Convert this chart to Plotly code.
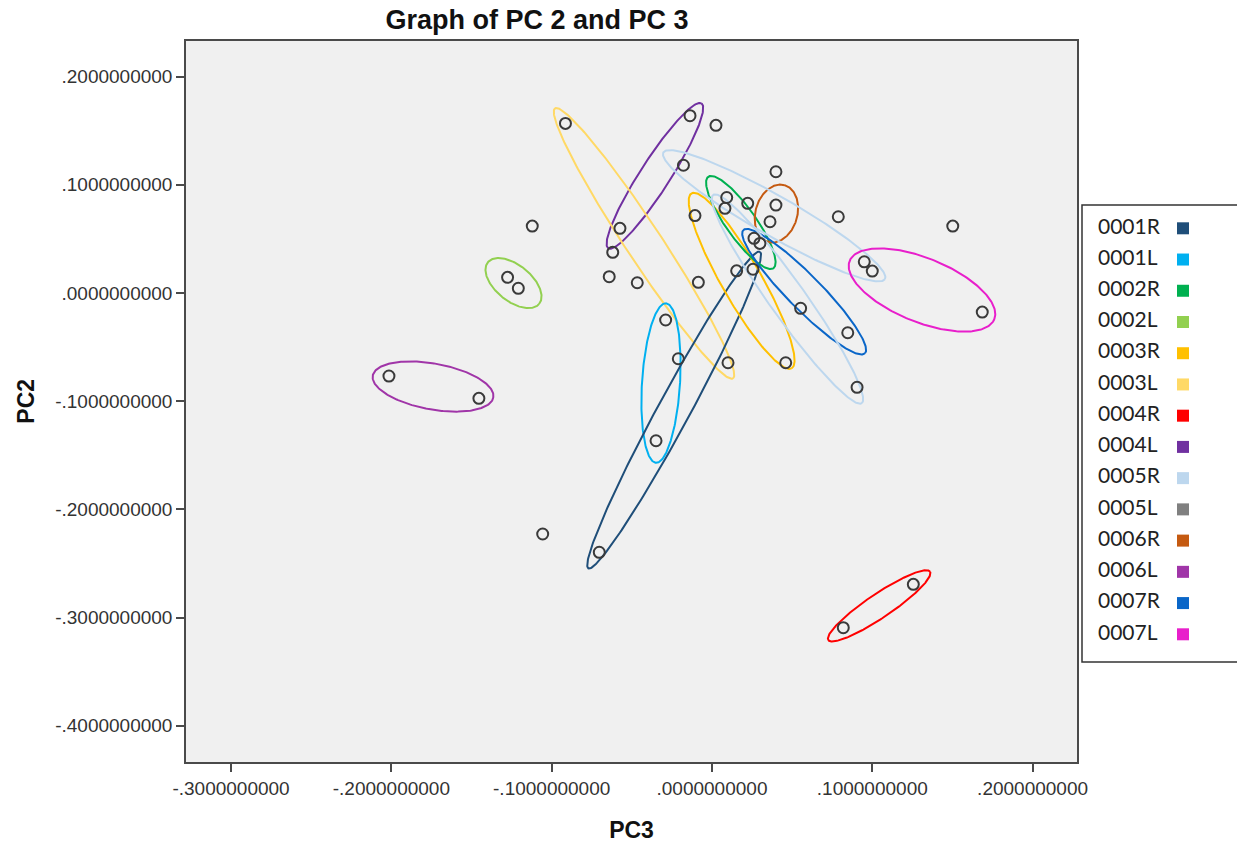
import numpy as np
import plotly.graph_objects as go

# ---------------- data ----------------
pc3 = [-0.0914, -0.0137, 0.0025, -0.0178, 0.0399, 0.0092, 0.0081, 0.0223, 0.0399, 0.0362,
       -0.0106, 0.0788, 0.1502, -0.1121, -0.0574, -0.0619, 0.0262, 0.0299, 0.0950, 0.1000,
       -0.0641, -0.0466, -0.0085, 0.0154, 0.0256, -0.1275, -0.1208, 0.0553, 0.1686, -0.0289,
       0.0847, -0.0210, 0.0100, 0.0460, 0.0905, -0.2015, -0.1454, -0.0349, -0.1056, -0.0703,
       0.1256, 0.0819]
pc2 = [0.1567, 0.1638, 0.1549, 0.1180, 0.1120, 0.0882, 0.0782, 0.0828, 0.0812, 0.0658,
       0.0715, 0.0704, 0.0618, 0.0618, 0.0597, 0.0375, 0.0505, 0.0458, 0.0288, 0.0202,
       0.0150, 0.0094, 0.0098, 0.0204, 0.0219, 0.0144, 0.0043, -0.0142, -0.0177, -0.0250,
       -0.0368, -0.0608, -0.0645, -0.0645, -0.0872, -0.0768, -0.0974, -0.1366, -0.2228, -0.2397,
       -0.2693, -0.3094]

groups = ["0001R", "0001L", "0002R", "0002L", "0003R", "0003L", "0004R",
          "0004L", "0005R", "0005L", "0006R", "0006L", "0007R", "0007L"]
group_colors = ["#1F4E79", "#00B0F0", "#00B050", "#92D050", "#FFC000", "#FFD966", "#FF0000",
                "#7030A0", "#BDD7EE", "#808080", "#C55A11", "#A035A8", "#0A66C8", "#E81FCB"]

# group ellipses: centre, half major-axis vector (data units), minor/major ratio
ell_group = ["0006L", "0002L", "0004L", "0003L", "0001L", "0001R", "0003R", "0002R",
             "0006R", "0007R", "0005R", "0005R", "0004R", "0007L"]
ell_cx = [-0.1740, -0.1238, -0.0356, -0.0424, -0.0318, -0.0236, 0.0185, 0.0180,
          0.0402, 0.0575, 0.0388, 0.0471, 0.1043, 0.1310]
ell_cy = [-0.0865, 0.0091, 0.1082, 0.0458, -0.0833, -0.1082, 0.0112, 0.0651,
          0.0734, 0.0011, 0.0713, -0.0056, -0.2892, 0.0027]
ell_ax = [0.0376, 0.0160, 0.0291, 0.0555, 0.0031, 0.0535, 0.0312, 0.0203,
          0.0051, 0.0379, 0.0691, 0.0463, 0.0317, 0.0451]
ell_ay = [-0.0101, -0.0192, 0.0670, -0.1248, 0.0737, 0.1463, -0.0809, -0.0423,
          0.0262, -0.0570, -0.0585, -0.0963, 0.0316, -0.0270]
ell_ratio = [0.375, 0.545, 0.174, 0.111, 0.238, 0.089, 0.198, 0.267,
             0.71, 0.196, 0.157, 0.141, 0.196, 0.41]

x_tickvals = [-0.3, -0.2, -0.1, 0.0, 0.1, 0.2]
x_ticktext = ["-.3000000000", "-.2000000000", "-.1000000000", ".0000000000", ".1000000000", ".2000000000"]
y_tickvals = [0.2, 0.1, 0.0, -0.1, -0.2, -0.3, -0.4]
y_ticktext = [".2000000000", ".1000000000", ".0000000000", "-.1000000000", "-.2000000000",
              "-.3000000000", "-.4000000000"]

# ---------------- layout geometry ----------------
W, H = 1237, 843
plot_l, plot_r, plot_t, plot_b = 186, 1077, 40.5, 762
x_range = [-0.3281, 0.2277]
y_range = [-0.4335, 0.2333]
sx = (plot_r - plot_l) / (x_range[1] - x_range[0])
sy = (plot_b - plot_t) / (y_range[1] - y_range[0])

color_of = dict(zip(groups, group_colors))

fig = go.Figure()

# ellipses
t = np.linspace(0, 2 * np.pi, 241)
for g, cx, cy, ax, ay, r in zip(ell_group, ell_cx, ell_cy, ell_ax, ell_ay, ell_ratio):
    vx, vy = ax * sx, ay * sy
    px, py = -vy * r, vx * r
    xs = cx + (vx * np.cos(t) + px * np.sin(t)) / sx
    ys = cy + (vy * np.cos(t) + py * np.sin(t)) / sy
    fig.add_trace(go.Scatter(x=xs, y=ys, mode="lines", line=dict(color=color_of[g], width=2),
                             showlegend=False, hoverinfo="skip", name=g))

# points
fig.add_trace(go.Scatter(x=pc3, y=pc2, mode="markers", showlegend=False,
                         marker=dict(symbol="circle-open", size=11, color="#3a3a3a",
                                     line=dict(width=2, color="#3a3a3a"))))

# custom legend (text left, coloured square right)
idx = list(range(len(groups)))
fig.add_trace(go.Scatter(x=[1098] * len(groups), y=idx, mode="text", text=groups,
                         textposition="middle right", xaxis="x2", yaxis="y2", showlegend=False,
                         textfont=dict(family="Lato, Open Sans, sans-serif", size=21, color="#222222"),
                         hoverinfo="skip"))
fig.add_trace(go.Scatter(x=[1183] * len(groups), y=idx, mode="markers", xaxis="x2", yaxis="y2",
                         showlegend=False, hoverinfo="skip",
                         marker=dict(symbol="square", size=12, color=group_colors)))

axis_common = dict(showgrid=False, zeroline=False, showline=True, mirror=True,
                   linecolor="#4a4a4a", linewidth=1.5, ticks="outside", ticklen=8,
                   tickwidth=1.5, tickcolor="#4a4a4a",
                   tickfont=dict(family="Liberation Sans, Arial, sans-serif", size=19, color="#333333"),
                   automargin=False)

fig.update_layout(
    width=W, height=H,
    margin=dict(l=0, r=0, t=0, b=0),
    paper_bgcolor="white", plot_bgcolor="white",
    title=dict(text="<b>Graph of PC 2 and PC 3</b>", xref="container", yref="container",
               x=537 / W, xanchor="center", y=1 - 20 / H, yanchor="middle",
               font=dict(family="Liberation Sans, Arial, sans-serif", size=27, color="#111111")),
    xaxis=dict(domain=[plot_l / W, plot_r / W], range=x_range, tickvals=x_tickvals,
               ticktext=x_ticktext,
               title=dict(text="<b>PC3</b>", standoff=24,
                          font=dict(family="Liberation Sans, Arial, sans-serif", size=23, color="#111111")),
               **axis_common),
    yaxis=dict(domain=[1 - plot_b / H, 1 - plot_t / H], range=y_range, tickvals=y_tickvals,
               ticktext=y_ticktext,
               title=dict(text="<b>PC2</b>", standoff=14,
                          font=dict(family="Liberation Sans, Arial, sans-serif", size=23, color="#111111")),
               **axis_common),
    xaxis2=dict(domain=[1082 / W, 1.0], range=[1082, 1237], visible=False, anchor="y2"),
    yaxis2=dict(domain=[1 - 662 / H, 1 - 205 / H], range=[13.887, -0.746], visible=False, anchor="x2"),
    shapes=[
        dict(type="rect", xref="x domain", yref="y domain", x0=0, x1=1, y0=0, y1=1,
             fillcolor="#F0F0F0", line=dict(width=0), layer="below"),
        dict(type="rect", xref="paper", yref="paper", x0=1082 / W, x1=1.01,
             y0=1 - 662 / H, y1=1 - 205 / H, fillcolor="rgba(0,0,0,0)",
             line=dict(color="#333333", width=1.5), layer="above"),
    ],
)

fig.write_html("out.html", config={"displayModeBar": False},
               post_script="document.body.style.margin='0px';document.body.style.overflow='hidden';")
